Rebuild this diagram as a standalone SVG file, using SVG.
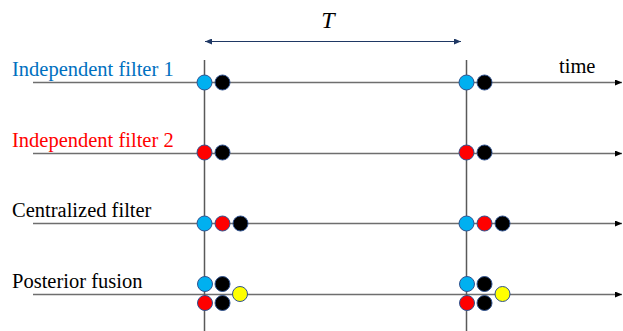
<svg xmlns="http://www.w3.org/2000/svg" width="623" height="331" viewBox="0 0 623 331">
<style>
.tl{stroke:#6e6e6e;stroke-width:1.3;fill:none}
.vl{stroke:#595959;stroke-width:1.5;fill:none}
.c{stroke:#2F528F;stroke-width:1}
.b{fill:#00B0F0}.r{fill:#FF0000}.k{fill:#000}.y{fill:#FFFF00}
.lbl{font-family:"Liberation Serif","Times New Roman",serif;font-size:20.5px}
</style>
<defs>
<marker id="ah" markerWidth="7" markerHeight="6" refX="7" refY="3" orient="auto" markerUnits="userSpaceOnUse"><path d="M0,0 L7,3 L0,6 z" fill="#000"/></marker>
<marker id="ta" markerWidth="7" markerHeight="6" refX="7" refY="3" orient="auto-start-reverse" markerUnits="userSpaceOnUse"><path d="M0,0 L7,3 L0,6 z" fill="#1F3864"/></marker>
</defs>
<g id="connectors">
<line class="tl" x1="33" y1="82.5" x2="622" y2="82.5" marker-end="url(#ah)"/>
<line class="tl" x1="33" y1="153.5" x2="622" y2="153.5" marker-end="url(#ah)"/>
<line class="tl" x1="33" y1="223.5" x2="622" y2="223.5" marker-end="url(#ah)"/>
<line class="tl" x1="33" y1="294.5" x2="622" y2="294.5" marker-end="url(#ah)"/>
<line class="vl" x1="204.5" y1="60" x2="204.5" y2="331"/>
<line class="vl" x1="466.5" y1="60" x2="466.5" y2="331"/>
<line x1="205" y1="41.5" x2="461" y2="41.5" stroke="#1F3864" stroke-width="1" marker-start="url(#ta)" marker-end="url(#ta)"/>
</g>
<g id="labels">
<text class="lbl" x="12" y="76" fill="#0070C0">Independent filter 1</text>
<text class="lbl" x="12" y="147" fill="#FF0000">Independent filter 2</text>
<text class="lbl" x="12" y="217" fill="#000">Centralized filter</text>
<text class="lbl" x="12" y="287.5" fill="#000">Posterior fusion</text>
<text class="lbl" x="559" y="73" fill="#000">time</text>
<text x="328" y="28" font-family="'Liberation Serif',serif" font-style="italic" font-size="24" text-anchor="middle">T</text>
</g>
<g id="t1">
<circle class="c b" cx="204.5" cy="82.5" r="7.5"/><circle class="c k" cx="222.5" cy="82.5" r="7.5"/>
<circle class="c r" cx="204.5" cy="152.5" r="7.5"/><circle class="c k" cx="222.5" cy="152.5" r="7.5"/>
<circle class="c b" cx="204.5" cy="223.5" r="7.5"/><circle class="c r" cx="222.5" cy="223.5" r="7.5"/><circle class="c k" cx="240.5" cy="223.5" r="7.5"/>
<circle class="c b" cx="205" cy="284" r="7.5"/><circle class="c k" cx="222.5" cy="284" r="7.5"/>
<circle class="c r" cx="205" cy="303" r="7.5"/><circle class="c k" cx="222.5" cy="303" r="7.5"/>
<circle class="c y" cx="240" cy="294" r="7.5"/>
</g>
<g id="t2">
<circle class="c b" cx="466.5" cy="82.5" r="7.5"/><circle class="c k" cx="484.5" cy="82.5" r="7.5"/>
<circle class="c r" cx="466.5" cy="152.5" r="7.5"/><circle class="c k" cx="484.5" cy="152.5" r="7.5"/>
<circle class="c b" cx="466.5" cy="223.5" r="7.5"/><circle class="c r" cx="484.5" cy="223.5" r="7.5"/><circle class="c k" cx="502.5" cy="223.5" r="7.5"/>
<circle class="c b" cx="467" cy="284" r="7.5"/><circle class="c k" cx="484.5" cy="284" r="7.5"/>
<circle class="c r" cx="467" cy="303" r="7.5"/><circle class="c k" cx="484.5" cy="303" r="7.5"/>
<circle class="c y" cx="502.5" cy="294" r="7.5"/>
</g>
</svg>
